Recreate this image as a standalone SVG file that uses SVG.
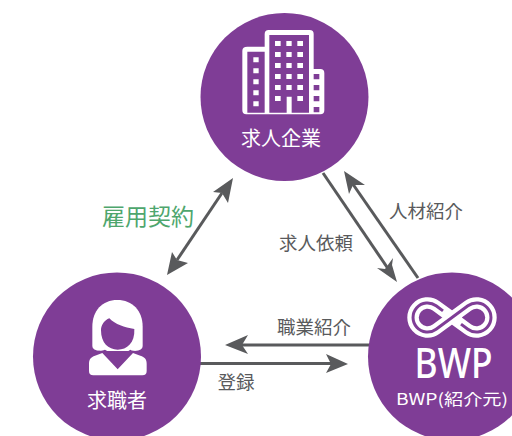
<svg xmlns="http://www.w3.org/2000/svg" width="512" height="436" viewBox="0 0 512 436">
<style>
.c{fill:#7f3d96}
.w{fill:#fff}
.p{fill:#7f3d96}
.t{font-family:"Noto Sans CJK JP","Noto Sans",sans-serif;text-anchor:middle}
.nl{fill:#fff;font-size:20px}
.cl{fill:#595a5c;font-size:18.500px}
.ln{stroke:#595a5c;stroke-width:3;fill:none}
.ah{fill:#595a5c}
</style>
<g id="connectors">
<path class="ln" d="M323 173L391 273"/><path class="ah" d="M397 282L377 268L385 269L393 258L392 265Z"/>
<path class="ln" d="M418 278L350 180"/><path class="ah" d="M344 171L365 185L353 185L349 194Z"/>
<path class="ln" d="M222 193L177 260"/><path class="ah" d="M233 178L228 203L222 193L213 192Z"/><path class="ah" d="M167 275L172 252L177 260L188 263Z"/>
<path class="ln" d="M370 345H240"/><path class="ah" d="M225 345L248 335L242 345L248 354Z"/>
<path class="ln" d="M200 363.500H335"/><path class="ah" d="M348 364L326 354L331 364L326 373Z"/>
</g>
<g id="node-company">
<circle class="c" cx="284.500" cy="97" r="84"/>
<g transform="translate(190 0) scale(.33333)">
<path class="w" d="M172 140h52v-38q0-12 12-12h123q12 0 12 12v105h20q12 0 12 12v112q0 12-12 12H169q-12 0-12-12V152q0-12 15-12z"/>
<path class="p" d="M172 155h52v183h-52zM238 105h119v233h-52v-48h-15v48h-52z"/>
<g class="w"><path d="M255 123h17v15h-17zM289 123h16v15h-16zM322 123h17v15h-17zM255 156h17v15h-17zM289 156h16v15h-16zM322 156h17v15h-17zM255 189h17v15h-17zM289 189h16v15h-16zM322 189h17v15h-17zM255 222h17v15h-17zM289 222h16v15h-16zM322 222h17v15h-17zM255 255h17v15h-17zM289 255h16v15h-16zM322 255h17v15h-17zM255 288h17v15h-17zM322 288h17v15h-17zM190 172h16v15h-16zM190 205h16v15h-16zM190 238h16v15h-16zM190 271h16v15h-16zM190 304h16v15h-16z"/></g>
<path class="p" d="M371 222h17v16h-17zM371 255h17v16h-17zM371 288h17v16h-17zM371 321h17v16h-17z"/>
</g>
<text class="t nl" x="281" y="146">求人企業</text>
</g>
<g id="node-seeker">
<circle class="c" cx="117" cy="356.500" r="84"/>
<g transform="translate(20 265) scale(.33333)">
<path class="w" d="M292 105c45 0 76 32 76 80v58q0 14-24 15h-102q-25-1-25-15v-58c0-48 30-80 75-80z"/>
<path class="p" d="M268 160c18 18 45 28 75 32c2 42-22 62-50 62s-50-20-50-58c0-16 10-30 25-36z"/>
<path class="p" d="M225 258c20 0 30-4 30-4c12 8 24 11 38 11s28-3 38-11c4 3 14 4 22 4v6H225z"/>
<path class="w" d="M207 296c0-14 6-20 18-24l22-8l46 49l46-49l22 8c13 4 19 10 19 24v22q0 13-13 13H220q-13 0-13-13z"/>
</g>
<text class="t nl" x="117" y="408">求職者</text>
</g>
<g id="node-bwp">
<circle class="c" cx="452" cy="356.500" r="84"/>
<path fill="none" stroke="#fff" stroke-width="11.500" d="M452 317.500L436.100 305.800A14.500 14.500 0 1 0 436.100 329.200L467.900 305.800A14.500 14.500 0 1 1 467.900 329.200Z"/>
<path fill="none" stroke="#7f3d96" stroke-width="3" d="M443 310.900L436.100 305.800A14.500 14.500 0 1 0 436.100 329.200L467.900 305.800A14.500 14.500 0 1 1 467.900 329.200L461 324.100"/>
<text x="453.500" y="378" font-family="'Noto Sans','Liberation Sans',sans-serif" font-size="41" font-weight="500" fill="#fff" text-anchor="middle" textLength="78" lengthAdjust="spacingAndGlyphs">BWP</text>
<text class="t" x="452" y="405" fill="#fff" font-size="16" textLength="112" lengthAdjust="spacingAndGlyphs">BWP(紹介元)</text>
</g>
<g id="labels">
<text class="t cl" x="426" y="218">人材紹介</text>
<text class="t cl" x="316" y="250">求人依頼</text>
<text class="t" x="148" y="225" fill="#4ea66d" font-size="23">雇用契約</text>
<text class="t cl" x="314" y="334">職業紹介</text>
<text class="t cl" x="236" y="389">登録</text>
</g>
</svg>
